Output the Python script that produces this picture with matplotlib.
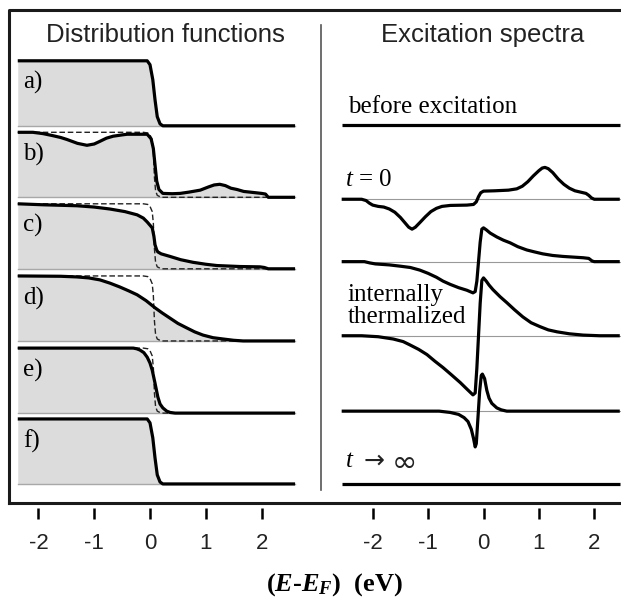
"""Distribution functions and excitation spectra after optical excitation."""

import matplotlib
matplotlib.use("Agg")
import matplotlib.pyplot as plt
from matplotlib.lines import Line2D

plt.rcParams["mathtext.fontset"] = "custom"
plt.rcParams["mathtext.rm"] = "Liberation Serif"
plt.rcParams["mathtext.it"] = "Liberation Serif:italic"
plt.rcParams["mathtext.bf"] = "Liberation Serif:bold"
plt.rcParams["mathtext.bfit"] = "Liberation Serif:italic:bold"

TICKS = [-2, -1, 0, 1, 2]
ROW_LABELS = ["a)", "b)", "c)", "d)", "e)", "f)"]

# --- distribution functions f(E) (E in eV) ---
step_E = [-2.37, -0.05, 0.0, 0.05, 0.09, 0.13, 0.18, 0.23, 2.6]
step_f = [1.0, 1.0, 0.94, 0.71, 0.40, 0.14, 0.03, 0.0, 0.0]

ref_E = [-2.37, -0.12, -0.04, 0.0, 0.04, 0.06, 0.08, 0.10, 0.13, 0.2, 2.6]
ref_f = [1.0, 1.0, 0.99, 0.96, 0.88, 0.70, 0.30, 0.10, 0.03, 0.0, 0.0]

b_E = [-2.37, -2.1, -1.92, -1.75, -1.6, -1.49, -1.3, -1.13, -1.0, -0.9, -0.78,
       -0.66, -0.5, -0.41, -0.05, 0.02, 0.06, 0.09, 0.12, 0.16, 0.23, 0.4,
       0.54, 0.7, 0.9, 1.05, 1.15, 1.25, 1.35, 1.45, 1.56, 1.68, 1.79, 2.0,
       2.07, 2.12, 2.6]
b_f = [1.0, 1.0, 0.98, 0.95, 0.92, 0.89, 0.83, 0.80, 0.82, 0.86, 0.91,
       0.94, 0.96, 0.97, 0.97, 0.90, 0.75, 0.50, 0.25, 0.12, 0.06, 0.055,
       0.06, 0.08, 0.11, 0.16, 0.19, 0.20, 0.18, 0.14, 0.12, 0.09, 0.08, 0.06,
       0.05, 0.0, 0.0]

c_E = [-2.37, -1.92, -1.31, -1.0, -0.72, -0.45, -0.23, -0.12, -0.05, 0.04,
       0.07, 0.09, 0.12, 0.14, 0.2, 0.36, 0.55, 0.77, 1.0, 1.2, 1.61, 1.97,
       2.05, 2.12, 2.6]
c_f = [1.0, 0.985, 0.97, 0.95, 0.92, 0.88, 0.83, 0.78, 0.72, 0.63,
       0.50, 0.37, 0.29, 0.26, 0.23, 0.19, 0.14, 0.10, 0.07, 0.05, 0.035, 0.03,
       0.02, 0.0, 0.0]

d_E = [-2.37, -1.6, -1.31, -1.1, -0.9, -0.72, -0.54, -0.38, -0.23, -0.07,
       0.09, 0.22, 0.36, 0.5, 0.66, 0.8, 0.95, 1.13, 1.31, 1.5, 1.67, 2.6]
d_f = [1.0, 0.995, 0.985, 0.97, 0.94, 0.89, 0.83, 0.77, 0.71, 0.62,
       0.51, 0.43, 0.35, 0.27, 0.20, 0.14, 0.09, 0.05, 0.03, 0.01, 0.0, 0.0]

e_E = [-2.37, -0.3, -0.24, -0.18, -0.11, -0.05, 0.0, 0.04, 0.09, 0.14, 0.18,
       0.23, 0.3, 0.36, 0.45, 2.6]
e_f = [1.0, 1.0, 0.99, 0.97, 0.93, 0.86, 0.77, 0.66, 0.46, 0.25, 0.14,
       0.08, 0.03, 0.01, 0.0, 0.0]

dist_E = [step_E, b_E, c_E, d_E, e_E, step_E]
dist_f = [step_f, b_f, c_f, d_f, e_f, step_f]
has_ref = [False, True, True, True, True, False]

# --- excitation spectra (change of f, same units) ---
flat_E = [-2.56, 2.46]
flat_d = [0.0, 0.0]

t0_E = [-2.56, -2.2, -2.12, -2.06, -2.0, -1.9, -1.8, -1.7, -1.6, -1.5, -1.42,
        -1.35, -1.29, -1.23, -1.15, -1.05, -0.95, -0.85, -0.75, -0.6, -0.3,
        -0.18, -0.13, -0.09, -0.05, 0.0, 0.2, 0.45, 0.6, 0.7, 0.8, 0.9, 1.0,
        1.06, 1.11, 1.17, 1.25, 1.35, 1.45, 1.55, 1.65, 1.75, 1.85, 1.9, 1.95,
        2.0, 2.46]
t0_d = [0.0, 0.0, -0.02, -0.06, -0.09, -0.11, -0.12, -0.15, -0.2, -0.28, -0.36,
        -0.43, -0.46, -0.43, -0.36, -0.27, -0.19, -0.14, -0.11, -0.095, -0.09,
        -0.08, -0.04, 0.04, 0.10, 0.125, 0.13, 0.14, 0.16, 0.2, 0.27, 0.36, 0.44,
        0.48, 0.49, 0.47, 0.41, 0.31, 0.23, 0.17, 0.13, 0.11, 0.09, 0.06, 0.02,
        0.0, 0.0]

s3_E = [-2.56, -2.15, -2.05, -1.95, -1.7, -1.5, -1.32, -1.15, -1.0, -0.85,
        -0.73, -0.6, -0.45, -0.3, -0.19, -0.15, -0.12, -0.09, -0.06, -0.03,
        0.0, 0.05, 0.12, 0.24, 0.36, 0.48, 0.62, 0.78, 0.92, 1.07, 1.25, 1.44,
        1.62, 1.8, 1.9, 1.96, 2.0, 2.46]
s3_d = [0.0, 0.0, -0.02, -0.035, -0.05, -0.07, -0.09, -0.13, -0.18, -0.24,
        -0.3, -0.35, -0.4, -0.44, -0.48, -0.46, -0.3, 0.0, 0.3, 0.5,
        0.52, 0.49, 0.44, 0.38, 0.33, 0.29, 0.23, 0.18, 0.15, 0.12, 0.095, 0.08,
        0.07, 0.06, 0.05, 0.01, 0.0, 0.0]

therm_E = [-2.56, -2.2, -1.9, -1.63, -1.45, -1.33, -1.17, -1.02, -0.88, -0.73,
           -0.58, -0.42, -0.3, -0.19, -0.15, -0.12, -0.09, -0.06, -0.03, 0.0,
           0.05, 0.1, 0.17, 0.3, 0.42, 0.56, 0.71, 0.86, 1.02, 1.17, 1.33,
           1.55, 1.8, 2.1, 2.46]
therm_d = [0.0, 0.0, -0.015, -0.05, -0.09, -0.14, -0.21, -0.29, -0.39, -0.49,
           -0.6, -0.72, -0.82, -0.91, -0.88, -0.5, 0.0, 0.5, 0.85, 0.89,
           0.84, 0.78, 0.71, 0.6, 0.51, 0.4, 0.29, 0.2, 0.14, 0.09, 0.06,
           0.03, 0.01, 0.0, 0.0]

s5_E = [-2.56, -0.8, -0.6, -0.45, -0.35, -0.28, -0.22, -0.18, -0.15, -0.13,
        -0.1, -0.07, -0.04, -0.02, 0.02, 0.06, 0.1, 0.15, 0.24, 0.32, 0.42, 2.46]
s5_d = [0.0, 0.0, -0.02, -0.05, -0.1, -0.16, -0.28, -0.42, -0.55, -0.5,
        -0.1, 0.3, 0.55, 0.57, 0.5, 0.32, 0.2, 0.12, 0.05, 0.02, 0.0, 0.0]

spec_E = [flat_E, t0_E, s3_E, therm_E, s5_E, flat_E]
spec_d = [flat_d, t0_d, s3_d, therm_d, s5_d, flat_d]
spec_guide = [False, True, True, True, True, False]

# vertical offsets of the rows (in units of the step height)
dist_off = [5.88, 4.78, 3.68, 2.57, 1.46, 0.37]
spec_off = [5.89, 4.75, 3.79, 2.65, 1.49, 0.37]

W, H = 621, 610
fig = plt.figure(figsize=(W / 100, H / 100), dpi=100)


def px_axes(x0, x1, y0, y1):
    return fig.add_axes([x0 / W, 1 - y1 / H, (x1 - x0) / W, (y1 - y0) / H])


axL = px_axes(9, 318, 10, 508)
axR = px_axes(324, 621, 10, 508)
axL.set_xlim((9 - 150) / 55.8, (318 - 150) / 55.8)
axR.set_xlim((324 - 483.5) / 55.4, (621 - 483.5) / 55.4)
for ax in (axL, axR):
    ax.set_ylim(0, 498 / 65)
    ax.patch.set_alpha(0)
    for s in ax.spines.values():
        s.set_visible(False)
    ax.set_yticks([])
    ax.set_xticks(TICKS)
    ax.set_xticklabels([str(t) for t in TICKS], family="Liberation Sans")
    ax.tick_params(axis="x", direction="out", length=8, width=1.8, pad=10,
                   labelsize=16, labelcolor="#222222")

serif = dict(family="Liberation Serif", fontsize=18)

for E, f, off, ref, lab in zip(dist_E, dist_f, dist_off, has_ref, ROW_LABELS):
    y = [v + off for v in f]
    axL.fill_between(E, off, y, color="#dcdcdc", lw=0)
    axL.plot([E[0], E[-1]], [off, off], color="#a8a8a8", lw=1.0)
    if ref:
        axL.plot(ref_E, [v + off for v in ref_f], color="#222222", lw=1.0,
                 dashes=(4, 2))
    axL.plot(E, y, color="black", lw=2.3, solid_capstyle="butt")
    axL.text(-2.28, off + 0.66, lab, ha="left", va="center", **serif)

for E, d, off, guide in zip(spec_E, spec_d, spec_off, spec_guide):
    if guide:
        axR.plot([-2.56, 2.46], [off, off], color="#999999", lw=0.8)
    axR.plot(E, [v + off for v in d], color="black", lw=2.3,
             solid_capstyle="butt")

axR.text(-2.45, (508 - 107) / 65, "before excitation", ha="left", va="center",
         **serif)
axR.text(-2.5, (508 - 180) / 65, r"$t$ = 0", ha="left", va="center", **serif)
axR.text(-2.45, (508 - 306) / 65, "internally\nthermalized", ha="left",
         va="center", linespacing=1.05, **serif)
axR.text(-2.5, (508 - 461) / 65, r"$t$", ha="left", va="center", **serif)
axR.text(-2.16, (508 - 461) / 65, "→", ha="left", va="center",
         family="DejaVu Sans", fontsize=18, color="#222222")
axR.text(-1.65, (508 - 463) / 65, "∞", ha="left", va="center",
         family="DejaVu Sans", fontsize=22, color="#222222")

fig.text(165 / W, 1 - 35 / H, "Distribution functions", ha="center",
         va="center", family="Liberation Sans", fontsize=18.5, color="#222222")
fig.text(483 / W, 1 - 35 / H, "Excitation spectra", ha="center",
         va="center", family="Liberation Sans", fontsize=18.5, color="#222222")
fig.text(335 / W, 1 - 585 / H,
         r"$\mathbf{(}\mathbfit{E}$-$\mathbfit{E}_{\mathbfit{F}}\mathbf{)}$  (eV)",
         ha="center", va="center", fontsize=19, family="Liberation Serif",
         fontweight="bold")

# frame around both panels (its right edge lies outside the picture)
def fig_line(xs, ys, **kw):
    fig.add_artist(Line2D([x / W for x in xs], [1 - y / H for y in ys],
                          transform=fig.transFigure, **kw))

fig_line([9, 9, W + 5], [503, 10, 10], color="#1a1a1a", lw=2.2)
fig_line([9, W + 5], [503, 503], color="#1a1a1a", lw=2.2)
fig_line([321, 321], [25, 490], color="#555555", lw=1.2)

fig.savefig("out.png", dpi=100)
